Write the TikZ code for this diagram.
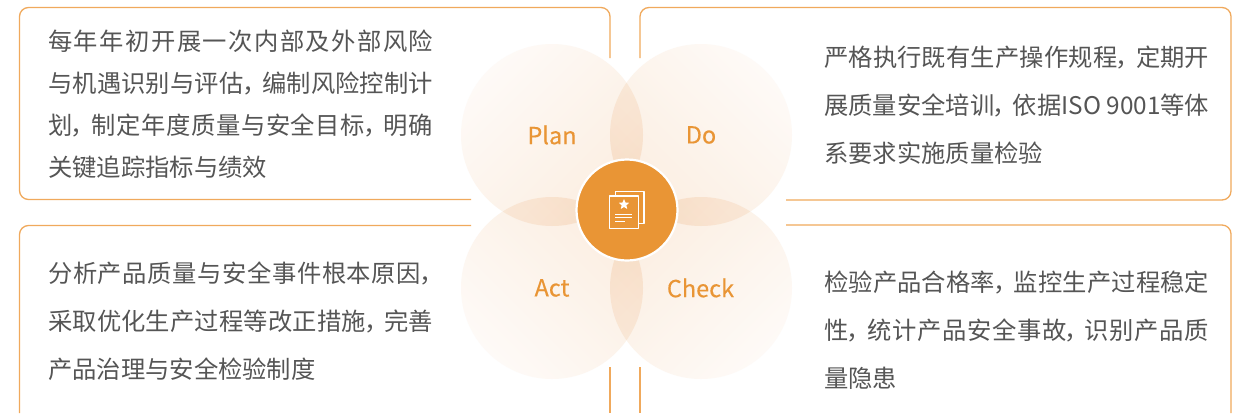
\documentclass[tikz,border=0pt]{standalone}
\usepackage{fontspec}
\usetikzlibrary{shapes.geometric}
\setmainfont[CharacterWidth=AlternateProportional]{Noto Sans CJK SC}
\newfontfamily\labelfont[FakeBold=0.25]{Noto Sans CJK SC}
\definecolor{frameC}{HTML}{F0A95C}
\definecolor{coreC}{HTML}{E99535}
\definecolor{txtC}{HTML}{555555}
\definecolor{petalA}{HTML}{FEFAF7}
\definecolor{petalB}{HTML}{FBEEE1}
\XeTeXlinebreaklocale "zh"
\XeTeXlinebreakskip=0pt plus 6pt minus 1pt
\newcommand{\jline}[1]{{\parfillskip=0pt #1\par}}
\newcommand{\cma}{，\hspace{6.5pt}}
\tikzset{
  frame/.style={draw=frameC,line width=1.3pt,rounded corners=9pt},
  petal/.style={circle,minimum size=182pt,inner sep=0pt,top color=petalA,bottom color=petalB},
  plabel/.style={text=coreC,font=\labelfont\fontsize{23.5pt}{26pt}\selectfont,inner sep=0pt},
  para/.style={anchor=north west,inner sep=0pt,text width=385pt,text=txtC,align=justify},
  iconline/.style={draw=white,line width=1.3pt,line join=round}
}
\begin{document}
\begin{tikzpicture}[x=1pt,y=-1pt]
\useasboundingbox (0,0) rectangle (1239,413);
\fill[white] (0,0) rectangle (1239,413);
% frames
\draw[frame] (610,58) -- (610,7.5) -- (19.5,7.5) -- (19.5,199.5) -- (471,199.5);
\draw[frame] (640,58) -- (640,7.5) -- (1231,7.5) -- (1231,200) -- (786,200);
\draw[frame] (471,225.5) -- (19.5,225.5) -- (19.5,413);
\draw[frame] (786,225) -- (1231,225) -- (1231,413);
\draw[frame] (610,367) -- (610,413);
\draw[frame] (640,367) -- (640,413);
% petals
\begin{scope}[blend mode=multiply]
\node[petal,shading angle=45] (plan) at (552,135) {};
\node[petal,shading angle=-45] (do) at (701,135) {};
\node[petal,shading angle=135] (act) at (552,288) {};
\node[petal,shading angle=-135] (check) at (701,288) {};
\end{scope}
\node[plabel] (planT) at (552,135) {Plan};
\node[plabel] (doT) at (701,135) {Do};
\node[plabel] (actT) at (552,288) {Act};
\node[plabel] (checkT) at (700.5,288) {Check};
% core
\node[circle,fill=coreC,draw=white,line width=2.2pt,minimum size=101pt,inner sep=0pt] (core) at (627,210) {};
% icon
\draw[iconline] (615.3,196) -- (615.3,191.7) -- (644,191.7) -- (644,223.3) -- (638.3,223.3);
\draw[iconline] (609.5,196) rectangle (638.3,228.3);
\node[star,star points=5,star point ratio=2.2,fill=white,minimum size=11pt,inner sep=0pt] (starI) at (624,204.5) {};
\draw[iconline] (615,214.3) -- (632,214.3);
\draw[iconline] (615,217.8) -- (632,217.8);
\draw[iconline] (615,221.2) -- (625,221.2);
% texts
\node[para,font=\fontsize{24.3pt}{42pt}\selectfont] (t1) at (48,30) {\jline{每年年初开展一次内部及外部风险}\jline{与机遇识别与评估\cma 编制风险控制计}\jline{划\cma 制定年度质量与安全目标\cma 明确}关键追踪指标与绩效};
\node[para,font=\fontsize{24.3pt}{47.7pt}\selectfont] (t2) at (824,46) {\jline{严格执行既有生产操作规程\cma 定期开}\jline{展质量安全培训\cma 依据ISO 9001等体}系要求实施质量检验};
\node[para,font=\fontsize{24.3pt}{48pt}\selectfont] (t3) at (48,262) {\jline{分析产品质量与安全事件根本原因，}\jline{采取优化生产过程等改正措施\cma 完善}产品治理与安全检验制度};
\node[para,font=\fontsize{24.3pt}{48pt}\selectfont] (t4) at (824,271) {\jline{检验产品合格率\cma 监控生产过程稳定}\jline{性\cma 统计产品安全事故\cma 识别产品质}量隐患};
\end{tikzpicture}
\end{document}
